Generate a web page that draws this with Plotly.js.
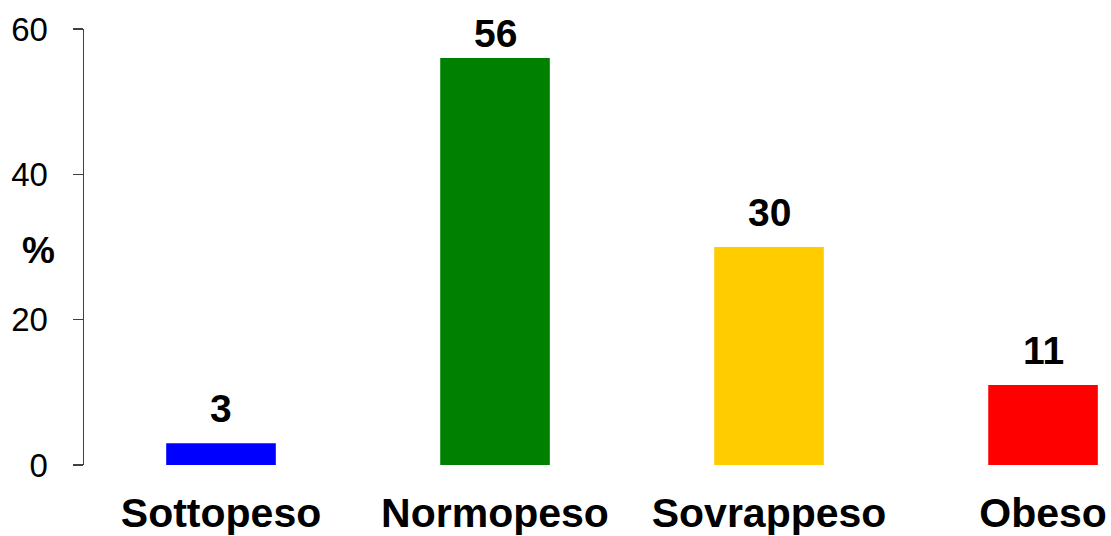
<!DOCTYPE html>
<html>
<head>
<meta charset="utf-8">
<script src="https://cdn.plot.ly/plotly-3.0.1.min.js"></script>
<style>
  html, body { margin: 0; padding: 0; background: #fff; }
  #chart { width: 1111px; height: 536px; }
</style>
</head>
<body>
<div id="chart"></div>
<script>
const categories = ["Sottopeso", "Normopeso", "Sovrappeso", "Obeso"];
const values = [3, 56, 30, 11];
const barColors = ["#0000FF", "#008000", "#FFCC00", "#FF0000"];
const yTicks = [0, 20, 40, 60];
const yLabel = "%";
// pixel offset of each value label above its bar (style only)
const labelShift = [11, 1, 11, 11];

const FONT = "Liberation Sans, Arial, sans-serif";

const trace = {
  type: "bar",
  x: categories,
  y: values,
  width: 0.4,
  marker: { color: barColors, line: { width: 0 } },
  cliponaxis: false,
  hoverinfo: "none"
};

const valueAnnotations = categories.map((c, i) => ({
  x: c,
  y: values[i],
  xref: "x",
  yref: "y",
  text: String(values[i]),
  showarrow: false,
  xanchor: "center",
  yanchor: "bottom",
  yshift: labelShift[i],
  font: { family: FONT, size: 39, color: "#000", weight: "bold" }
}));

const layout = {
  width: 1111,
  height: 536,
  margin: { l: 84, r: 0, t: 29, b: 71 },
  paper_bgcolor: "#fff",
  plot_bgcolor: "#fff",
  showlegend: false,
  font: { family: FONT, color: "#000" },
  xaxis: {
    type: "category",
    range: [-0.5, 3.248],
    showline: false,
    showgrid: false,
    zeroline: false,
    ticks: "",
    ticklabelstandoff: 20,
    tickfont: { family: FONT, size: 41, color: "#000", weight: "bold" }
  },
  yaxis: {
    range: [0, 60],
    tickvals: yTicks,
    ticktext: yTicks.map(String),
    showline: true,
    linecolor: "#404040",
    linewidth: 1.5,
    showgrid: false,
    zeroline: false,
    ticks: "outside",
    ticklen: 10,
    tickwidth: 1.5,
    tickcolor: "#404040",
    ticklabelstandoff: 18,
    tickfont: { family: FONT, size: 33, color: "#000" }
  },
  annotations: valueAnnotations.concat([{
    text: yLabel,
    xref: "paper",
    yref: "paper",
    x: (38 - 84) / 1027,
    y: (465 - 250) / 436,
    xanchor: "center",
    yanchor: "middle",
    showarrow: false,
    font: { family: FONT, size: 37, color: "#000", weight: "bold" }
  }])
};

Plotly.newPlot("chart", [trace], layout, { displayModeBar: false, staticPlot: true });
</script>
</body>
</html>
